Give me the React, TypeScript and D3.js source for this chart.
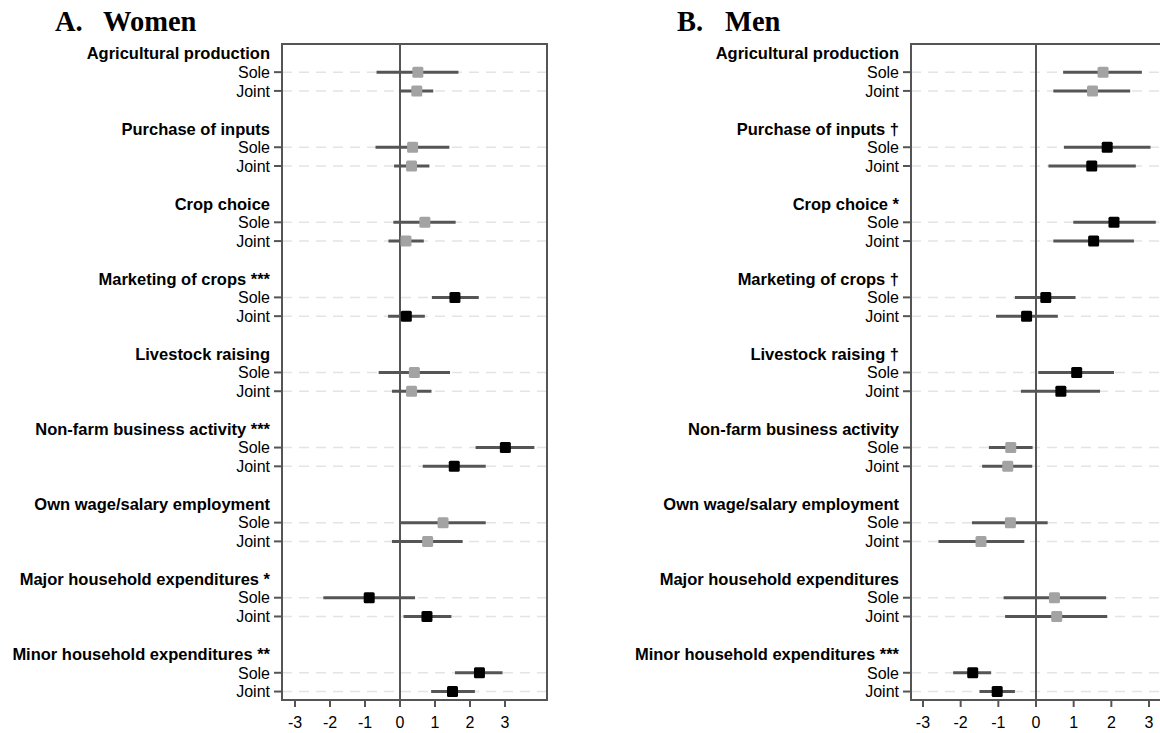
import React from "react";
import * as d3 from "d3";

const categories = [
  "Agricultural production",
  "Purchase of inputs",
  "Crop choice",
  "Marketing of crops",
  "Livestock raising",
  "Non-farm business activity",
  "Own wage/salary employment",
  "Major household expenditures",
  "Minor household expenditures",
];
const subRows = ["Sole", "Joint"];
const xTicks = [-3, -2, -1, 0, 1, 2, 3];

const womenSig = ["", "", "", "***", "", "***", "", "*", "**"];
const womenSoleEst = [0.51, 0.36, 0.71, 1.57, 0.41, 3.01, 1.23, -0.88, 2.27];
const womenSoleLo = [-0.67, -0.7, -0.19, 0.91, -0.61, 2.16, -0.02, -2.19, 1.57];
const womenSoleHi = [1.67, 1.41, 1.59, 2.25, 1.43, 3.84, 2.45, 0.43, 2.93];
const womenJointEst = [0.48, 0.33, 0.17, 0.18, 0.33, 1.55, 0.79, 0.77, 1.5];
const womenJointLo = [-0.03, -0.17, -0.33, -0.34, -0.23, 0.65, -0.23, 0.1, 0.89];
const womenJointHi = [0.95, 0.84, 0.68, 0.71, 0.9, 2.45, 1.79, 1.47, 2.14];

const menSig = ["", "†", "*", "†", "†", "", "", "", "***"];
const menSoleEst = [1.78, 1.89, 2.07, 0.26, 1.08, -0.67, -0.68, 0.49, -1.68];
const menSoleLo = [0.72, 0.74, 0.99, -0.56, 0.06, -1.25, -1.7, -0.86, -2.2];
const menSoleHi = [2.81, 3.04, 3.18, 1.05, 2.07, -0.09, 0.31, 1.86, -1.19];
const menJointEst = [1.5, 1.48, 1.53, -0.25, 0.66, -0.75, -1.46, 0.55, -1.03];
const menJointLo = [0.46, 0.33, 0.46, -1.06, -0.4, -1.43, -2.59, -0.82, -1.5];
const menJointHi = [2.5, 2.65, 2.6, 0.58, 1.7, -0.1, -0.31, 1.89, -0.56];

const SANS = "'Liberation Sans', Arial, Helvetica, sans-serif";
const SERIF = "'Liberation Serif', 'Times New Roman', serif";
const AXIS = "#555555";

type PanelProps = {
  letter: string;
  title: string;
  letterX: number;
  titleX: number;
  left: number;
  zeroX: number;
  pxPerUnit: number;
  boxRight: number;
  sig: string[];
  soleEst: number[]; soleLo: number[]; soleHi: number[];
  jointEst: number[]; jointLo: number[]; jointHi: number[];
};

function Panel(p: PanelProps) {
  const top = 44;
  const bottom = 700;
  const x = d3.scaleLinear()
    .domain([(p.left - p.zeroX) / p.pxPerUnit, (p.boxRight - p.zeroX) / p.pxPerUnit])
    .range([p.left, p.boxRight]);
  // row index: header = 4g, sole = 4g+1, joint = 4g+2
  const y = d3.scaleLinear().domain([-0.5, 34.45]).range([top, bottom]);

  const rows: { g: number; kind: string; est: number; lo: number; hi: number }[] = [];
  categories.forEach((c, g) => {
    rows.push({ g, kind: "Sole", est: p.soleEst[g], lo: p.soleLo[g], hi: p.soleHi[g] });
    rows.push({ g, kind: "Joint", est: p.jointEst[g], lo: p.jointLo[g], hi: p.jointHi[g] });
  });
  const rowIdx = (g: number, kind: string) => 4 * g + 1 + subRows.indexOf(kind);
  const ms = 11;

  return (
    <g>
      <text x={p.letterX} y={30.5} fontFamily={SERIF} fontWeight="bold" fontSize={28.5} fill="#000">{p.letter}</text>
      <text x={p.titleX} y={30.5} fontFamily={SERIF} fontWeight="bold" fontSize={28.5} fill="#000">{p.title}</text>

      {rows.map((r, i) => (
        <line key={"gl" + i} x1={p.left} x2={p.boxRight} y1={y(rowIdx(r.g, r.kind))} y2={y(rowIdx(r.g, r.kind))}
          stroke="#e4e4e4" strokeWidth={1.5} strokeDasharray="10 7" />
      ))}

      <line x1={x(0)} x2={x(0)} y1={top} y2={bottom} stroke={AXIS} strokeWidth={2} />

      {rows.map((r, i) => {
        const yy = y(rowIdx(r.g, r.kind));
        const sig = p.sig[r.g] !== "";
        return (
          <g key={"m" + i}>
            <line x1={x(r.lo)} x2={x(r.hi)} y1={yy} y2={yy} stroke={AXIS} strokeWidth={3} />
            <rect x={x(r.est) - ms / 2} y={yy - ms / 2} width={ms} height={ms} rx={1.5}
              fill={sig ? "#000000" : "#a3a3a3"} />
          </g>
        );
      })}

      <rect x={p.left} y={top} width={p.boxRight - p.left} height={bottom - top} fill="none" stroke={AXIS} strokeWidth={2} />

      {categories.map((c, g) => (
        <text key={"h" + g} x={p.left - 12} y={y(4 * g)} dy="0.37em" textAnchor="end" fontFamily={SANS}
          fontWeight="bold" fontSize={16.5} fill="#000">
          {c + (p.sig[g] ? " " + p.sig[g] : "")}
        </text>
      ))}
      {rows.map((r, i) => {
        const yy = y(rowIdx(r.g, r.kind));
        return (
          <g key={"yl" + i}>
            <line x1={p.left - 8} x2={p.left} y1={yy} y2={yy} stroke={AXIS} strokeWidth={2} />
            <text x={p.left - 12} y={yy} dy="0.36em" textAnchor="end" fontFamily={SANS} fontSize={16} fill="#000">{r.kind}</text>
          </g>
        );
      })}

      {xTicks.map((t) => (
        <g key={"xt" + t}>
          <line x1={x(t)} x2={x(t)} y1={bottom} y2={bottom + 7} stroke={AXIS} strokeWidth={2} />
          <text x={x(t)} y={728} textAnchor="middle" fontFamily={SANS} fontSize={16} fill="#000">{t}</text>
        </g>
      ))}
    </g>
  );
}

export default function App() {
  return (
    <svg width={1160} height={733} style={{ position: "absolute", left: 0, top: 0, background: "#fff" }}>
      <rect x={0} y={0} width={1160} height={733} fill="#fff" />
      <Panel letter="A." title="Women" letterX={55} titleX={103} left={282} zeroX={400} pxPerUnit={35} boxRight={547}
        sig={womenSig}
        soleEst={womenSoleEst} soleLo={womenSoleLo} soleHi={womenSoleHi}
        jointEst={womenJointEst} jointLo={womenJointLo} jointHi={womenJointHi} />
      <Panel letter="B." title="Men" letterX={677} titleX={725} left={911} zeroX={1036} pxPerUnit={37.67} boxRight={1196}
        sig={menSig}
        soleEst={menSoleEst} soleLo={menSoleLo} soleHi={menSoleHi}
        jointEst={menJointEst} jointLo={menJointLo} jointHi={menJointHi} />
    </svg>
  );
}
